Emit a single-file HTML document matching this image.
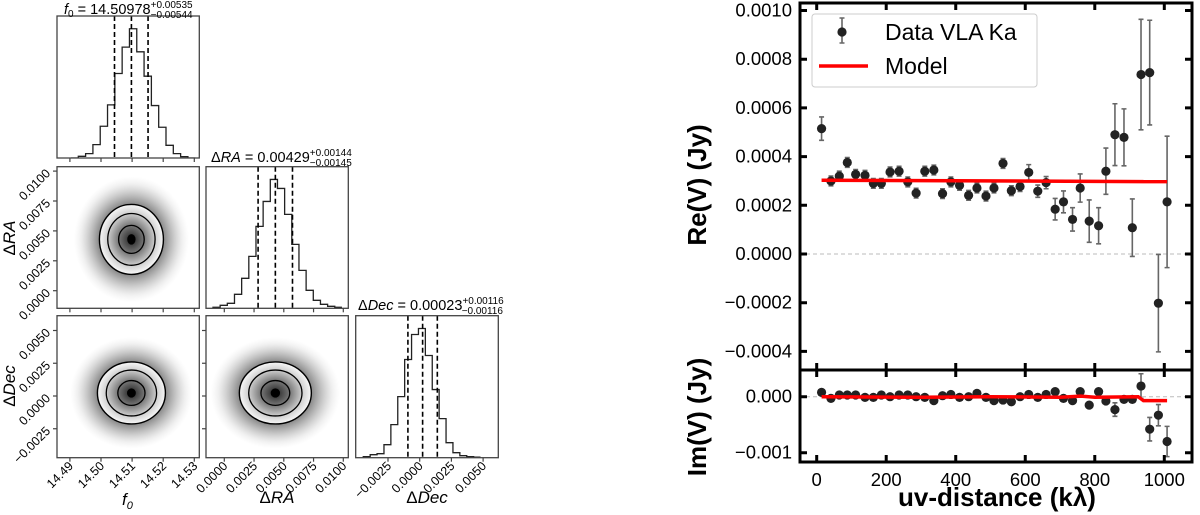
<!DOCTYPE html>
<html><head><meta charset="utf-8">
<style>
html,body{margin:0;padding:0;background:#fff;}
svg{display:block;font-family:"Liberation Sans","DejaVu Sans",sans-serif;}
</style></head>
<body>
<svg id="fig" width="1200" height="515" viewBox="0 0 1200 515" xmlns="http://www.w3.org/2000/svg">
<defs>
<radialGradient id="cloud" cx="50%" cy="50%" r="50%">
<stop offset="0%" stop-color="#000" stop-opacity="0.7"/>
<stop offset="50%" stop-color="#111" stop-opacity="0.6"/>
<stop offset="70%" stop-color="#333" stop-opacity="0.32"/>
<stop offset="88%" stop-color="#666" stop-opacity="0.1"/>
<stop offset="100%" stop-color="#999" stop-opacity="0"/>
</radialGradient>
<radialGradient id="core" cx="50%" cy="50%" r="50%">
<stop offset="0%" stop-color="#222"/>
<stop offset="40%" stop-color="#777"/>
<stop offset="75%" stop-color="#d0d0d0"/>
<stop offset="100%" stop-color="#f8f8f8"/>
</radialGradient>
</defs>
<g id="corner"></g>
<g id="right"></g>

<g font-weight="bold" font-size="26">
<text transform="translate(706,185) rotate(-90)" text-anchor="middle">Re(V) (Jy)</text>
<text transform="translate(706,417) rotate(-90)" text-anchor="middle">Im(V) (Jy)</text>
<text x="997" y="506" text-anchor="middle">uv-distance (kλ)</text>
</g>
<g>
<rect x="812" y="14" width="225" height="73" rx="3" fill="#fff" fill-opacity="0.85" stroke="#ccc" stroke-width="1"/>
<g>
<path d="M842,18V43M839.5,18H844.5M839.5,43H844.5" stroke="#666" stroke-width="1.6"/>
<circle cx="842" cy="32" r="4.6" fill="#222"/>
<text x="885" y="40" font-size="23">Data VLA Ka</text>
</g>
<g>
<line x1="819" x2="868" y1="66" y2="66" stroke="#f00" stroke-width="3.5"/>
<text x="885" y="74" font-size="23">Model</text>
</g>
</g>

<g font-size="14.5">
<text x="64" y="14"><tspan font-style="italic">f</tspan><tspan font-size="10" dy="3">0</tspan><tspan dy="-3"> = 14.50978</tspan><tspan font-size="10" dy="-6">+0.00535</tspan><tspan font-size="10" dx="-42" dy="10">−0.00544</tspan></text>
<text x="211" y="162">Δ<tspan font-style="italic">RA</tspan> = 0.00429<tspan font-size="10" dy="-6">+0.00144</tspan><tspan font-size="10" dx="-42" dy="10">−0.00145</tspan></text>
<text x="358" y="310">Δ<tspan font-style="italic">Dec</tspan> = 0.00023<tspan font-size="10" dy="-6">+0.00116</tspan><tspan font-size="10" dx="-42" dy="10">−0.00116</tspan></text>
</g>
<g font-size="17">
<text x="122" y="505" font-style="italic">f<tspan font-size="11" dy="4">0</tspan></text>
<text x="277" y="503" text-anchor="middle">Δ<tspan font-style="italic">RA</tspan></text>
<text x="427" y="503" text-anchor="middle">Δ<tspan font-style="italic">Dec</tspan></text>
<text transform="translate(15,238) rotate(-90)" text-anchor="middle">Δ<tspan font-style="italic">RA</tspan></text>
<text transform="translate(15,386) rotate(-90)" text-anchor="middle">Δ<tspan font-style="italic">Dec</tspan></text>
</g>
</svg>
<script>
// ---------- right chart data ----------
const uvDist = [14,41,65,88,112,139,163,186,211,237,262,286,311,337,362,386,411,437,461,487,510,536,560,585,610,636,660,686,710,736,758,784,811,832,858,884,908,933,958,983,1008];
const reVals = [0.000515,0.0003,0.00032,0.000376,0.000327,0.000323,0.00029,0.00029,0.000337,0.00034,0.000296,0.00025,0.00034,0.000345,0.000248,0.000296,0.000282,0.000241,0.000271,0.000238,0.000271,0.000372,0.00026,0.000277,0.000335,0.000258,0.000293,0.000184,0.000214,0.000142,0.000271,0.000135,0.000116,0.00034,0.00049,0.000479,0.000108,0.000737,0.000745,-0.000202,0.000214];
const reErrs = [0.000048,0.00002,0.00002,0.00002,0.00002,0.00002,0.00002,0.00002,0.00002,0.00002,0.00002,0.00002,0.00002,0.00002,0.00002,0.00002,0.00002,0.00002,0.00002,0.00002,0.00002,0.00002,0.00002,0.00002,0.000032,0.000025,0.000025,0.000044,0.000045,0.000048,0.000058,0.000087,0.000074,0.000095,0.000127,0.000117,0.000118,0.000227,0.000215,0.0002,0.00027];
const imVals = [0.000077,-0.00003,0.00003,0.00003,0.00003,-0.000012,-0.000012,0.00003,0,0.00003,0.00003,0,-0.000012,-0.00007,0.000018,0.00004,-0.000012,0,0.00006,-0.000012,-0.00007,-0.00006,-0.00009,0,0.00004,-0.000012,0.00004,0.00009,-0.00003,-0.00007,0.00009,-0.00015,0.00009,-0.000077,-0.00023,-0.000048,-0.000048,0.00019,-0.00058,-0.00033,-0.0008];
const imErrs = [0.00002,0.00002,0.00002,0.00002,0.00002,0.00002,0.00002,0.00002,0.00002,0.00002,0.00002,0.00002,0.00002,0.00002,0.00002,0.00002,0.00002,0.00002,0.00002,0.00002,0.00002,0.00002,0.00002,0.00002,0.00002,0.00002,0.00002,0.00002,0.00002,0.00002,0.00003,0.00003,0.00004,0.00004,0.00012,0.00005,0.00005,0.00022,0.00021,0.00019,0.00027];
const modelUv = [14,1008];
const modelRe = [0.000303,0.000297];
const modelImUv = [14,300,500,700,760,800,925,940,1008];
const modelIm = [0,-0.00001,0,-0.00001,0.00001,-0.00001,0,-0.00007,-0.00007];
const xTicks = [0,200,400,600,800,1000];
const reTicks = [0.0010,0.0008,0.0006,0.0004,0.0002,0,-0.0002,-0.0004];
const reTickLabels = ["0.0010","0.0008","0.0006","0.0004","0.0002","0.0000","\u22120.0002","\u22120.0004"];
const imTicks = [0,-0.001];
const imTickLabels = ["0.000","\u22120.001"];

// ---------- corner data ----------
const f0Counts = [0,5,13,40,95,159,253,332,387,318,245,157,92,38,13,4,0];
const raCounts = [1,3,5,14,30,52,82,107,129,120,94,64,38,18,8,4,2,1];
const decCounts = [1,3,4,13,33,61,98,123,129,102,68,39,15,5,2,1,0.5];
const f0Ticks = [14.49,14.50,14.51,14.52,14.53];
const f0TickLabels = ["14.49","14.50","14.51","14.52","14.53"];
const raTicks = [0,0.0025,0.005,0.0075,0.01];
const raTickLabels = ["0.0000","0.0025","0.0050","0.0075","0.0100"];
const decTicks = [-0.0025,0,0.0025,0.005];
const decTickLabels = ["\u22120.0025","0.0000","0.0025","0.0050"];
const f0Quant = [14.50434,14.50978,14.51513];
const raQuant = [0.00284,0.00429,0.00573];
const decQuant = [-0.00093,0.00023,0.00139];

const NS = "http://www.w3.org/2000/svg";
function mk(parent, tag, attrs, text){
  const e = document.createElementNS(NS, tag);
  for (const k in attrs) e.setAttribute(k, attrs[k]);
  if (text !== undefined) e.textContent = text;
  parent.appendChild(e);
  return e;
}

// ===== right chart =====
const R = document.getElementById('right');
const X0 = 800, X1 = 1192, TOP = 3, MID = 370, BOT = 462;
const xs = v => 816.7 + v * 0.3476;
const yRe = v => 254 - v * 243500;
const yIm = v => 396.7 - v * 56000;

let zl = mk(R,'line',{x1:806,x2:1186,y1:yRe(0),y2:yRe(0),stroke:'#bbb','stroke-width':1,'stroke-dasharray':'4,3'});


let zl2 = mk(R,'line',{x1:806,x2:1186,y1:yIm(0),y2:yIm(0),stroke:'#bbb','stroke-width':1,'stroke-dasharray':'4,3'});



mk(mk(R,'clipPath',{id:'clipMain'}),'rect',{x:X0,y:TOP,width:X1-X0,height:MID-TOP});
mk(mk(R,'clipPath',{id:'clipIm'}),'rect',{x:X0,y:MID,width:X1-X0,height:BOT-MID});

(function(){
  const gm = mk(R,'g',{'clip-path':'url(#clipMain)'});
  
  
  for (let i=0;i<uvDist.length;i++){
    const x = xs(uvDist[i]), y = yRe(reVals[i]);
    const y1 = yRe(reVals[i]+reErrs[i]), y2 = yRe(reVals[i]-reErrs[i]);
    const eb = mk(gm,'path',{d:`M${x},${y1}V${y2}M${x-2.5},${y1}H${x+2.5}M${x-2.5},${y2}H${x+2.5}`,stroke:'#666','stroke-width':1.6,fill:'none'});
    
    
    const c = mk(gm,'circle',{cx:x,cy:y,r:4.6,fill:'#222'});
    
    
  }
  const ml = mk(gm,'polyline',{points:modelUv.map((u,i)=>xs(u)+','+yRe(modelRe[i])).join(' '),stroke:'#f00','stroke-width':3.5,fill:'none'});
  
  

  const gi = mk(R,'g',{'clip-path':'url(#clipIm)'});
  
  
  for (let i=0;i<uvDist.length;i++){
    const x = xs(uvDist[i]), y = yIm(imVals[i]);
    const y1 = yIm(imVals[i]+imErrs[i]), y2 = yIm(imVals[i]-imErrs[i]);
    const eb = mk(gi,'path',{d:`M${x},${y1}V${y2}M${x-2.5},${y1}H${x+2.5}M${x-2.5},${y2}H${x+2.5}`,stroke:'#666','stroke-width':1.6,fill:'none'});
    
    
    const c = mk(gi,'circle',{cx:x,cy:y,r:4.6,fill:'#222'});
    
    
  }
  const il = mk(gi,'polyline',{points:modelImUv.map((u,i)=>xs(u)+','+yIm(modelIm[i])).join(' '),stroke:'#f00','stroke-width':3.5,fill:'none'});
  
  
})();

let fr = mk(R,'rect',{x:X0,y:TOP,width:X1-X0,height:BOT-TOP,fill:'none',stroke:'#000','stroke-width':3});


let dv = mk(R,'line',{x1:X0,x2:X1,y1:MID,y2:MID,stroke:'#000','stroke-width':3});



xTicks.forEach(t=>{
  const x = xs(t);
  mk(R,'path',{d:`M${x},${TOP}v7M${x},${MID-7}v14M${x},${BOT}v-7`,stroke:'#000','stroke-width':3});
  const l = mk(R,'text',{x:x,y:BOT+24,'text-anchor':'middle','font-size':18.5},String(t));
  
  
});
reTicks.forEach((t,i)=>{
  const y = yRe(t);
  mk(R,'path',{d:`M${X0},${y}h7M${X1},${y}h-7`,stroke:'#000','stroke-width':3});
  const l = mk(R,'text',{x:X0-8,y:y+6,'text-anchor':'end','font-size':18.5},reTickLabels[i]);
  
  
});
imTicks.forEach((t,i)=>{
  const y = yIm(t);
  mk(R,'path',{d:`M${X0},${y}h7M${X1},${y}h-7`,stroke:'#000','stroke-width':3});
  const l = mk(R,'text',{x:X0-8,y:y+6,'text-anchor':'end','font-size':18.5},imTickLabels[i]);
  
  
});

// ===== corner plot =====
const C = document.getElementById('corner');
const cols = [[57,199.3],[206,348.3],[355.7,498.3]];
const rows = [[16,158],[166.7,308.3],[315.7,457.7]];
const fx = v => 101 + (v-14.50)*3110;
const rax = v => 224.3 + v*11900;
const decx = v => 419.7 + v*12680;
const ray = v => 290.7 - v*11960;
const decy = v => 396 - v*13100;

function panel(c, r, name){
  const b = mk(C,'rect',{x:cols[c][0],y:rows[r][0],width:cols[c][1]-cols[c][0],height:rows[r][1]-rows[r][0],fill:'none',stroke:'#444','stroke-width':1.3});
  
  
}
function hist(counts, start, width, xfn, c, r, quant, name){
  const base = rows[r][1];
  const maxH = rows[r][1]-rows[r][0];
  const top = Math.max(...counts);
  const sc = v => base - v/top*(maxH*0.91);
  let d = `M${xfn(start)},${base}`;
  counts.forEach((n,i)=>{
    const xa = xfn(start+i*width), xb = xfn(start+(i+1)*width);
    d += `L${xa},${sc(n)}L${xb},${sc(n)}`;
  });
  const p = mk(C,'path',{d:d,fill:'none',stroke:'#222','stroke-width':1.3});
  
  
  quant.forEach(q=>{
    const l = mk(C,'line',{x1:xfn(q),x2:xfn(q),y1:rows[r][0],y2:base,stroke:'#000','stroke-width':1.6,'stroke-dasharray':'5,3'});
    
    
  });
}
function blob(cx, cy, rx, ry, name){
  const g = mk(C,'g',{});
  
  
  mk(g,'ellipse',{cx:cx,cy:cy,rx:rx*1.8,ry:ry*1.8,fill:'url(#cloud)'});
  mk(g,'ellipse',{cx:cx,cy:cy,rx:rx,ry:ry,fill:'url(#core)',stroke:'#000','stroke-width':1.4});
  mk(g,'ellipse',{cx:cx,cy:cy,rx:rx*0.74,ry:ry*0.74,fill:'none',stroke:'#000','stroke-width':1.3});
  mk(g,'ellipse',{cx:cx,cy:cy,rx:rx*0.4,ry:ry*0.4,fill:'none',stroke:'#000','stroke-width':1.3});
  mk(g,'ellipse',{cx:cx,cy:cy,rx:rx*0.13,ry:ry*0.15,fill:'#000'});
}
blob(fx(f0Quant[1]), ray(raQuant[1]), 32, 35, 'f0-vs-ra-density');
blob(fx(f0Quant[1]), decy(decQuant[1]), 34, 31, 'f0-vs-dec-density');
blob(rax(raQuant[1]), decy(decQuant[1]), 36, 31, 'ra-vs-dec-density');
hist(f0Counts, 14.49035, 0.00235, fx, 0, 0, f0Quant, 'f0-histogram');
hist(raCounts, -0.00095, 0.000602, rax, 1, 1, raQuant, 'ra-histogram');
hist(decCounts, -0.00445, 0.000544, decx, 2, 2, decQuant, 'dec-histogram');
mk(C,'rect',{x:0,y:0,width:57,height:515,fill:'#fff'});
mk(C,'rect',{x:0,y:457.7,width:520,height:60,fill:'#fff'});
mk(C,'rect',{x:0,y:158,width:206,height:8.7,fill:'#fff'});
mk(C,'rect',{x:0,y:308.3,width:360,height:7.4,fill:'#fff'});
mk(C,'rect',{x:199.3,y:166.7,width:6.7,height:300,fill:'#fff'});
mk(C,'rect',{x:348.3,y:315.7,width:7.4,height:150,fill:'#fff'});
mk(C,'rect',{x:0,y:0,width:360,height:16,fill:'#fff'});
panel(0,0,'f0-hist-panel'); panel(0,1,'f0-ra-panel'); panel(1,1,'ra-hist-panel');
panel(0,2,'f0-dec-panel'); panel(1,2,'ra-dec-panel'); panel(2,2,'dec-hist-panel');

function xTickRow(ticks, labels, xfn, withLabels, r){
  const y = rows[r][1];
  ticks.forEach((t,i)=>{
    const x = xfn(t);
    mk(C,'line',{x1:x,x2:x,y1:y,y2:y+4,stroke:'#444','stroke-width':1.2});
    if (withLabels){
      const l = mk(C,'text',{'font-size':12.5,'text-anchor':'end',transform:`translate(${x+4},${y+9}) rotate(-45)`},labels[i]);
      
      
    }
  });
}
function yTickCol(ticks, labels, yfn){
  ticks.forEach((t,i)=>{
    const y = yfn(t);
    mk(C,'line',{x1:57,x2:53,y1:y,y2:y,stroke:'#444','stroke-width':1.2});
    const l = mk(C,'text',{'font-size':12.5,'text-anchor':'end',transform:`translate(51,${y+3}) rotate(-45)`},labels[i]);
    
    
  });
}
xTickRow(f0Ticks, f0TickLabels, fx, false, 0);
xTickRow(f0Ticks, f0TickLabels, fx, false, 1);
xTickRow(raTicks, raTickLabels, rax, false, 1);
xTickRow(f0Ticks, f0TickLabels, fx, true, 2);
xTickRow(raTicks, raTickLabels, rax, true, 2);
xTickRow(decTicks, decTickLabels, decx, true, 2);
yTickCol(raTicks, raTickLabels, ray);
yTickCol(decTicks, decTickLabels, decy);
decTicks.forEach(t=>{ mk(C,'line',{x1:206,x2:202,y1:decy(t),y2:decy(t),stroke:'#444','stroke-width':1.2}); });
</script>
</body></html>
